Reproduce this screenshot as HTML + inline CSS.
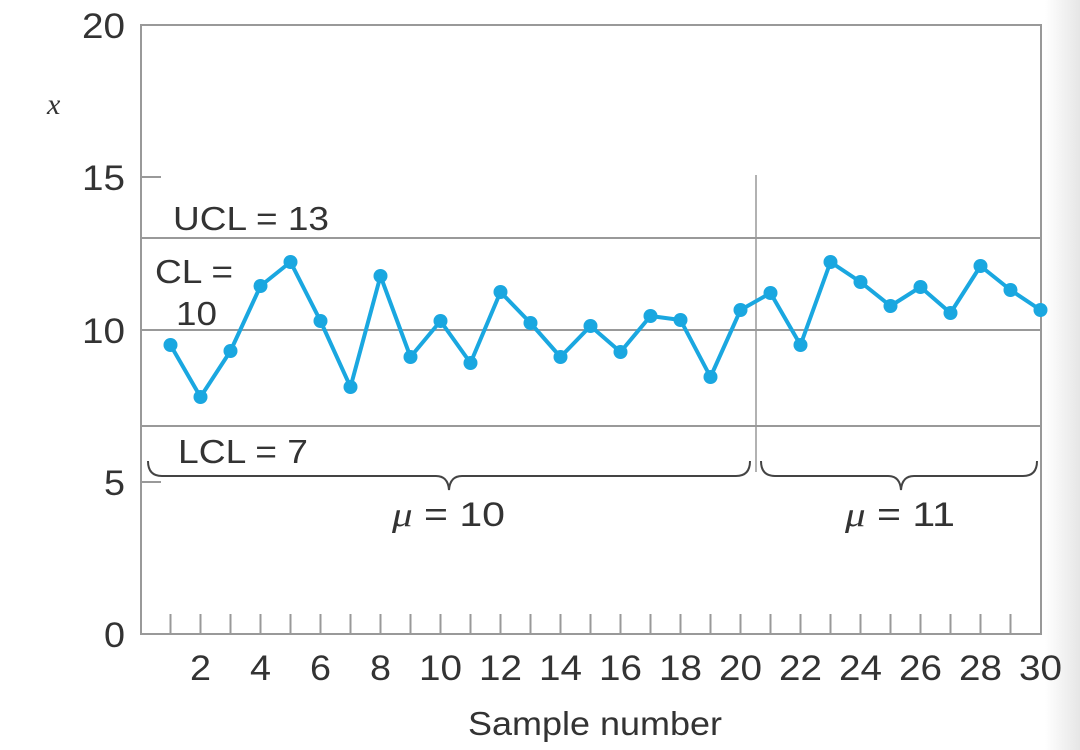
<!DOCTYPE html>
<html><head><style>body{margin:0;background:#fff}svg{display:block}</style></head><body>
<svg width="1080" height="750" viewBox="0 0 1080 750" xmlns="http://www.w3.org/2000/svg">
<defs><linearGradient id="g" x1="0" x2="1"><stop offset="0" stop-color="#fff"/><stop offset="1" stop-color="#e6e6e6"/></linearGradient></defs>
<rect x="1045" y="0" width="35" height="750" fill="url(#g)"/>
<g stroke="#999" stroke-width="2" fill="none">
<rect x="141" y="25" width="900" height="609"/>
<line x1="141" y1="238" x2="1041" y2="238"/>
<line x1="141" y1="330" x2="1041" y2="330"/>
<line x1="141" y1="426" x2="1041" y2="426"/>
<line x1="141" y1="177" x2="161" y2="177"/>
<line x1="141" y1="482" x2="161" y2="482"/>
<line x1="756" y1="175" x2="756" y2="472" stroke-width="1.5"/>
</g>
<g stroke="#999" stroke-width="2" id="ticks"></g>
<g stroke="#444" stroke-width="2" fill="none">
<path d="M148 461 Q148 476 162 476 L436 476 Q448 476 449 490 Q450 476 462 476 L736 476 Q750 476 750 461"/>
<path d="M761 461 Q761 476 775 476 L888 476 Q900 476 901 490 Q902 476 914 476 L1023 476 Q1037 476 1037 461"/>
</g>
<polyline id="ln" fill="none" stroke="#1aa7e0" stroke-width="4" stroke-linejoin="round"/>
<g id="dots" fill="#1aa7e0"></g>
<g font-family="Liberation Sans, sans-serif" font-size="35" fill="#333">
<text x="82" y="38" textLength="43" lengthAdjust="spacingAndGlyphs">20</text>
<text x="82" y="190" textLength="43" lengthAdjust="spacingAndGlyphs">15</text>
<text x="82" y="343" textLength="43" lengthAdjust="spacingAndGlyphs">10</text>
<text x="104" y="495" textLength="21" lengthAdjust="spacingAndGlyphs">5</text>
<text x="104" y="647" textLength="21" lengthAdjust="spacingAndGlyphs">0</text>
<text x="173" y="230" font-size="33" textLength="156" lengthAdjust="spacingAndGlyphs">UCL = 13</text>
<text x="155" y="283" font-size="33" textLength="78" lengthAdjust="spacingAndGlyphs">CL =</text>
<text x="176" y="325" font-size="33" textLength="41" lengthAdjust="spacingAndGlyphs">10</text>
<text x="178" y="463" font-size="33" textLength="130" lengthAdjust="spacingAndGlyphs">LCL = 7</text>
<text x="392" y="526" font-size="34" textLength="113" lengthAdjust="spacingAndGlyphs"><tspan font-family="Liberation Serif, serif" font-style="italic">μ</tspan> = 10</text>
<text x="845" y="526" font-size="34" textLength="110" lengthAdjust="spacingAndGlyphs"><tspan font-family="Liberation Serif, serif" font-style="italic">μ</tspan> = 11</text>
<text x="468" y="735" font-size="33" textLength="254" lengthAdjust="spacingAndGlyphs">Sample number</text>
<text x="47" y="114" font-family="Liberation Serif, serif" font-style="italic" font-size="30">x</text>
<g id="xl" text-anchor="middle"></g>
</g>
</svg>
<script>
var ys=[345,397,351,286,262,321,387,276,357,321,363,292,323,357,326,352,316,320,377,310,293,345,262,282,306,287,313,266,290,310];
var X=i=>170.5+(i-1)*30,pts=[],ns="http://www.w3.org/2000/svg";
ys.forEach((y,k)=>{var i=k+1,x=X(i);pts.push(x+","+y);var c=document.createElementNS(ns,"circle");c.setAttribute("cx",x);c.setAttribute("cy",y);c.setAttribute("r",7);document.getElementById("dots").appendChild(c);
if(i<30){var l=document.createElementNS(ns,"line");l.setAttribute("x1",x);l.setAttribute("x2",x);l.setAttribute("y1",614);l.setAttribute("y2",634);document.getElementById("ticks").appendChild(l);}
if(i%2==0){var t=document.createElementNS(ns,"text");t.setAttribute("x",x);t.setAttribute("y",680);t.setAttribute("textLength",i<10?21:43);t.setAttribute("lengthAdjust","spacingAndGlyphs");t.textContent=i;document.getElementById("xl").appendChild(t);}});
document.getElementById("ln").setAttribute("points",pts.join(" "));
</script>
</body></html>
